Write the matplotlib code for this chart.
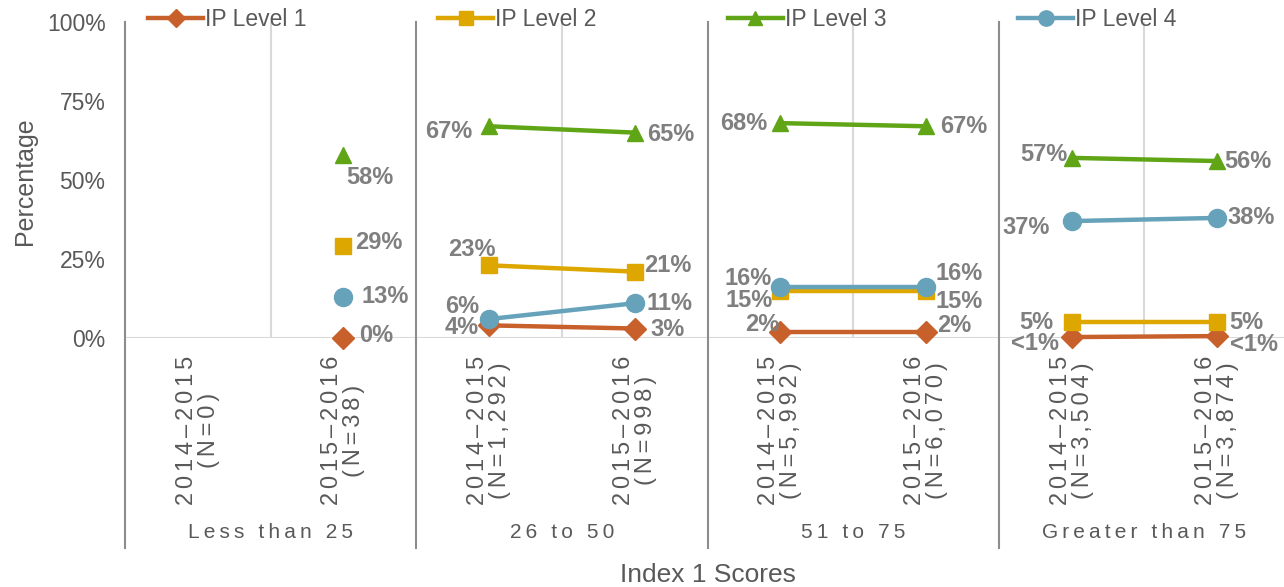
import numpy as np
import matplotlib.pyplot as plt
from matplotlib.lines import Line2D

plt.rcParams['font.family'] = ['Liberation Sans', 'DejaVu Sans']

years = ['2014–2015', '2015–2016'] * 4
counts = ['0', '38', '1,292', '998', '5,992', '6,070', '3,504', '3,874']
groups = ['Less than 25', '26 to 50', '51 to 75', 'Greater than 75']

series = ['IP Level 1', 'IP Level 2', 'IP Level 3', 'IP Level 4']
level1 = [np.nan, 0, 4, 3, 2, 2, 0.3, 0.6]
level2 = [np.nan, 29, 23, 21, 15, 15, 5, 5]
level3 = [np.nan, 58, 67, 65, 68, 67, 57, 56]
level4 = [np.nan, 13, 6, 11, 16, 16, 37, 38]

colors = ['#C8602B', '#DDA700', '#5FA516', '#67A2BB']
markers = ['D', 's', '^', 'o']
msizes = [11, 12, 12, 13]

# label offsets in pixels (dx, dy) for each series and category
offsets = {
    0: [None, (16, 2), (-10, -2), (16, -1), (-1, 7), (11, 6), (-13, -6), (13, -8)],
    1: [None, (12, 4), (7, 16), (9, 6), (-8, -10), (10, -11), (-18, 0), (12, 0)],
    2: [None, (3, -23), (-17, -5), (12, -2), (-13, 0), (14, 0), (-4, 3), (7, 0)],
    3: [None, (18, 0), (-10, 13), (12, 0), (-9, 9), (10, 14), (-22, -6), (10, 0)],
}

W, H = 1284, 587
fig = plt.figure(figsize=(W / 100, H / 100), dpi=100)
ax = fig.add_axes([125 / W, (H - 338) / H, (1290 - 125) / W, (338 - 22) / H])
ax.set_xlim(-0.5, 7.5)
ax.set_ylim(0, 100)
for s in ax.spines.values():
    s.set_visible(False)

x = np.arange(8)
data = [level1, level2, level3, level4]


def fmt(v):
    if 0 < v < 1:
        return '<1%'
    return f'{v:.0f}%'


for i, vals in enumerate(data):
    vals = np.array(vals, dtype=float)
    # each pair of years is its own segment
    for g in range(4):
        idx = [2 * g, 2 * g + 1]
        ax.plot(x[idx], vals[idx], color=colors[i], lw=3.2, marker=markers[i],
                ms=msizes[i], mec=colors[i], clip_on=False, zorder=3 + i)
    for k in range(8):
        if np.isnan(vals[k]):
            continue
        dx, dy = offsets[i][k]
        ha = 'left' if k % 2 == 1 else 'right'
        ax.annotate(fmt(vals[k]), (x[k], vals[k]), xytext=(dx, dy),
                    textcoords='offset pixels', ha=ha, va='center',
                    fontsize=17, fontweight='bold', color='#7F7F7F', zorder=10)

# zero line and light gridlines between the two years
ax.axhline(0, color='#D9D9D9', lw=1.5, zorder=1)
for g in range(4):
    ax.plot([2 * g + 0.5] * 2, [0, 100], color='#D9D9D9', lw=1.5, zorder=1)

# group separators running down through the tick labels
bottom = -(548 - 338) / (338 - 22)
tr = ax.get_xaxis_transform()
for g in range(5):
    ax.add_line(Line2D([2 * g - 0.5] * 2, [bottom, 1], transform=tr,
                       color='#8C8C8C', lw=1.5, clip_on=False, zorder=2))

ax.set_yticks([0, 25, 50, 75, 100])
ax.set_yticklabels(['0%', '25%', '50%', '75%', '100%'])
ax.tick_params(axis='y', length=0, pad=14, labelsize=16.5, labelcolor='#595959')

sp = '\u2006'
ticklabels = [sp.join(y) + '\n' + sp.join('(N=' + c + ')') for y, c in zip(years, counts)]
ax.set_xticks(x)
ax.set_xticklabels(ticklabels, rotation=90, ha='center', va='top',
                   multialignment='center', linespacing=1.0)
ax.tick_params(axis='x', length=0, pad=13, labelsize=17, labelcolor='#595959')

for g, name in enumerate(groups):
    ax.annotate('\u2009'.join(name), (2 * g + 0.5, 0), xycoords=tr,
                xytext=(0, -(533 - 338)), textcoords='offset pixels',
                ha='center', va='center', fontsize=15, color='#595959')

fig.text(25 / W, 1 - 181 / H, 'Percentage', rotation=90, ha='center', va='center',
         fontsize=18, color='#595959')
fig.text(708 / W, 1 - 575 / H, 'Index 1 Scores', ha='center', va='center',
         fontsize=19, color='#595959')

# one legend entry per series, spaced evenly across the top
for i in range(4):
    h = Line2D([], [], color=colors[i], lw=3.2, marker=markers[i],
               ms=msizes[i] - 2, mec=colors[i])
    leg = fig.legend([h], [series[i]], loc='center left',
                     bbox_to_anchor=((148 + 290 * i) / W, 1 - 20 / H),
                     frameon=False, fontsize=16.5, handlelength=2.4, handletextpad=0.1,
                     borderpad=0, borderaxespad=0, labelcolor='#595959')

fig.savefig('out.png', dpi=100)
